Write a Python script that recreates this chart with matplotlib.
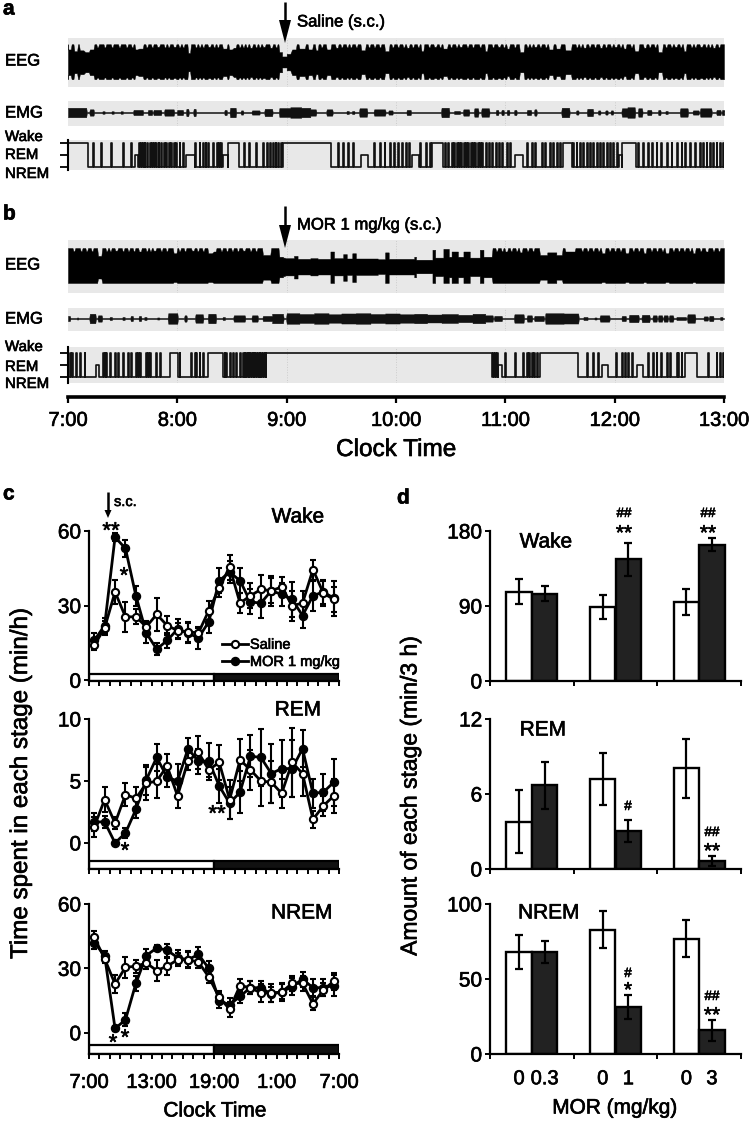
import numpy as np
import matplotlib
matplotlib.use('Agg')
import matplotlib.pyplot as plt
import matplotlib.patheffects as pe
from matplotlib.patches import Rectangle
from matplotlib.text import Text

plt.rcParams['font.family'] = ['Liberation Sans', 'DejaVu Sans']

W, H = 751, 1121

#### traces, everything in minutes after 7:00 ####
hour_labels = ['7:00', '8:00', '9:00', '10:00', '11:00', '12:00', '13:00']

# (start, end, amplitude), amplitude 1 = full scale
eeg_a_dips = [(0, 1.5, .7), (3.5, 5, .6), (6.5, 8.5, .65), (9.5, 11.5, .55), (12, 14, .7), (37, 38, .7), (39, 41, .75),
              (49, 50, .85), (58, 59, .85), (66, 67, .5), (77, 78, .85), (85, 87, .75), (88.5, 90, .7), (91, 92, .8),
              (100, 101, .8), (107, 108, .85), (111, 112, .8), (116, 117.5, .55), (117.5, 120, .3), (120, 122, .45),
              (123, 125, .7), (127, 130, .75), (132, 134, .7), (136, 137, .65), (142, 144, .7), (147, 148, .8),
              (161, 163, .65), (174, 176, .6), (186, 187, .8), (194, 195, .6), (201, 202, .85), (206, 208, .75),
              (215, 216, .85), (229, 230, .6), (236, 237, .85), (241, 242, .75), (248, 250, .55), (256, 257, .85),
              (264, 266, .7), (268, 270, .75), (273, 276, .65), (283, 284, .8), (292, 293, .8), (300, 301, .85),
              (305, 306, .75), (311, 313, .6), (316, 317, .8), (324, 326, .55), (333, 334, .85), (338, 339, .6),
              (347, 348, .85), (354, 355, .8)]
eeg_a_slits = [16, 20, 24, 28, 32, 35, 43, 46, 53, 55, 61, 63, 70, 72, 74, 80, 82, 94, 96, 98, 103, 105, 114, 139, 150,
               153, 155, 158, 165, 168, 171, 178, 181, 184, 189, 192, 198, 204, 210, 213, 219, 222, 226, 233, 239, 245,
               252, 254, 259, 262, 279, 281, 286, 289, 295, 298, 303, 309, 319, 322, 328, 331, 336, 342, 344, 350, 352,
               357]
eeg_b_dips = [(16.5, 18.3, .55), (26, 27, .85), (39, 40, .8), (47, 48, .85), (58, 59.5, .7), (68, 69, .85),
              (77, 79, .7), (80, 81, .8), (96, 97, .85), (107, 111, .6), (116, 118, .5), (118, 119, .45),
              (119, 124, .42), (124, 126, .55), (126, 133, .38), (133, 137, .42), (137, 144, .38), (144, 146, .8),
              (146, 151, .42), (151, 153, .65), (153, 156, .4), (156, 158, .7), (158, 170, .4), (170, 174, .36),
              (174, 176, .75), (176, 190, .38), (190, 191, .5), (191, 200, .33), (200, 201.5, .9), (201.5, 206, .45),
              (206, 209, .95), (209, 210.5, .5), (210.5, 214, .8), (214, 217, .5), (217, 220.5, .8), (220.5, 226, .45),
              (226, 228, .9), (228, 232.5, .5), (240, 241, .8), (248, 249, .75), (259, 263, .6), (263, 268, .75),
              (268, 271, .6), (273, 278, .8), (293, 294.5, .7), (306, 307.5, .7), (316, 317, .7), (328, 329.5, .7),
              (343, 344, .7), (350, 351, .8)]
eeg_b_slits = [3, 7, 10, 13, 21, 23, 30, 33, 36, 43, 45, 51, 54, 61, 64, 71, 74, 84, 87, 90, 93, 100, 103, 235, 238,
               243, 246, 252, 255, 282, 285, 288, 291, 297, 300, 303, 310, 313, 320, 323, 326, 332, 335, 338, 341, 347,
               354, 357]

# bursts on the emg line, same form
emg_a_bursts = [(0, 10, .9), (12, 14, .6), (19, 20, .25), (24, 25, .25), (29, 30, .25), (36, 41, .5), (44, 46, .5),
                (47, 51, .5), (53, 58, .6), (60, 63, .5), (65, 66, .7), (69, 70, .7), (86, 87, .5), (89, 92, .9),
                (95, 96, .4), (101, 105, .4), (108, 112, .7), (116, 122, .85), (122, 128, 1.0), (128, 133, .9),
                (133, 136, .6), (142, 145, .6), (153, 154, .3), (156, 157, .3), (160, 164, .8), (168, 174, .6),
                (176, 178, .4), (186, 188, .5), (205, 209, .9), (212, 215, .3), (217, 220, .6), (223, 225, .8),
                (227, 231, .8), (235, 236, .5), (238, 239, .5), (241, 242, .5), (245, 246, .5), (252, 254, .5),
                (256, 257, .6), (271, 275, .9), (279, 280, .4), (285, 288, .7), (291, 292, .4), (295, 296, .4),
                (298, 299, .4), (304, 307, .8), (307, 311, 1.0), (313, 315, .8), (318, 320, .5), (324, 325, .5),
                (328, 329, .3), (336, 340, .8), (343, 346, .4), (347, 353, .8), (356, 358, .5), (359, 360, .5)]
emg_b_bursts = [(0, 1, .5), (5, 5.5, .2), (12, 15, .9), (16.5, 18.5, .6), (23, 24, .3), (30, 31, .3), (34.5, 35.5, .5),
                (39, 40, .5), (42, 43, .3), (49, 50, .2), (55, 60, 1.0), (64, 65, .6), (70, 74, .8), (77, 81, .9),
                (85, 86, .3), (91, 97, .6), (101, 104, .6), (107, 112, .5), (112, 118, .9), (120, 127, 1.0),
                (127, 135, .85), (135, 143, 1.0), (143, 150, .8), (150, 158, .95), (158, 166, 1.0), (166, 174, .85),
                (174, 182, .95), (182, 190, .8), (190, 197, .9), (197, 205, .75), (205, 214, .85), (214, 222, .7),
                (222, 229, .9), (229, 233, .6), (234, 238, .5), (245, 250, .8), (252, 254.5, .6), (256, 261, .5),
                (262, 272, 1.0), (272, 280, .95), (283, 285, .3), (289, 290, .2), (292, 297, .6), (304, 306, .5),
                (308, 313, .7), (315, 319, .7), (321, 323, .6), (324, 326, .6), (327, 329, .6), (330, 332, .6),
                (334, 339, .3), (340, 344, .8), (349, 351, .4), (352, 354, .5), (358, 359, .3)]

# hypnograms: time spent in wake or rem, the rest is nrem, single spikes are short wake visits
hyp_a_wake = [(0, 11), (87.8, 94.1), (117.9, 144.4), (199.6, 206), (271.8, 276.4), (304.2, 311.5)]
hyp_a_rem = [(37, 38.5), (64.9, 69.5), (85, 87.8), (160.9, 164.5), (189, 192.5), (245.3, 249.9), (302.4, 304.2)]
hyp_a_spikes = [13.7, 18.3, 23.8, 30.2, 34.7, 38.9, 40.2, 41.1, 42, 43.3, 44.8, 46.1, 47.2, 48.4, 49.7, 51.2, 52.5,
                53.9, 55.4, 56.7, 58, 59.4, 61.2, 63.1, 69.8, 72.2, 74, 75.5, 76.8, 79.5, 81.7, 82.8, 84.1, 96.5, 99.6,
                103.3, 107, 109.1, 111, 112.4, 113.9, 115.4, 116.8, 148, 150.8, 153.5, 156.3, 168.2, 171, 173.7, 176.5,
                179, 181.3, 183.5, 185.4, 187.2, 193.2, 196.3, 198.7, 206.9, 208.7, 210.6, 212, 213.3, 214.6, 215.9,
                217.2, 218.4, 219.7, 221, 222.3, 223.6, 224.8, 226.1, 227.4, 229.2, 231, 232.9, 234.7, 236.5, 238.4,
                240.7, 242.6, 251.7, 254.5, 256.3, 259.9, 261.8, 264.5, 266.3, 268.2, 270, 277.3, 279.1, 281, 282.8,
                284.6, 286.5, 288.3, 290.1, 292, 293.8, 295.6, 297.4, 299.2, 301.1, 313, 315.7, 318.4, 320.3, 323,
                325.7, 328.5, 331.2, 334, 336.7, 338.5, 341.3, 344, 346.8, 348.6, 350.4, 352.3, 354.1, 355.9, 357.7,
                359.5]

hyp_b_wake = [(55.8, 60.3), (76.8, 85), (108.8, 232.5), (259, 280), (338.5, 345)]
hyp_b_rem = [(15.2, 17), (236.2, 238), (292.8, 296.5), (312, 315.7)]
hyp_b_spikes = [.9, 2.4, 4.6, 6.8, 9.1, 19.2, 20.1, 21, 22.9, 25.6, 27.4, 30.2, 32.9, 34.7, 37.1, 38.4, 39.3, 42.6,
                43.9, 45.2, 48.1, 50.3, 61.2, 67.6, 69.5, 70.4, 72.2, 74, 85.9, 86.8, 88.7, 90.5, 92.4, 94.2, 96, 96.9,
                97.8, 98.8, 99.6, 100.5, 101.4, 102.3, 103.2, 104.2, 105.1, 106, 107, 107.9, 233.4, 234.3, 235.3, 239.8,
                245.3, 249.9, 251.7, 253, 254.5, 255.9, 257.2, 284.6, 288.3, 291, 301, 303.8, 305.6, 307.5, 309.3,
                318.4, 321.2, 323, 325.7, 328.5, 330.3, 334, 335, 336.7, 351.3, 355.9, 357.7, 359.5]

#### panel c, 24 hourly points ####
wake_sal = [14, 21, 35.5, 25.5, 25.5, 21.5, 26.5, 22, 20, 19.5, 19, 28, 37, 45.5, 31, 34, 36.5, 36, 37.5, 30, 31, 44.5, 35, 32.5]
wake_sal_err = [2, 3, 5, 6, 3, 2.5, 6.5, 4, 3, 4, 2, 4, 3.5, 5, 4, 5, 6, 5, 4, 6, 5, 4, 5, 5]
wake_mor = [16, 22, 57.5, 53, 34, 19, 12.5, 16, 20.5, 19, 17, 23.5, 40, 43.5, 40, 31.5, 31, 36, 34.5, 32.5, 26, 34, 35.5, 33]
wake_mor_err = [3, 3, 1.5, 3.5, 4, 4, 2.5, 3, 4, 4, 4.5, 4.5, 5, 4.5, 5, 5, 6, 6, 4.5, 7, 5, 6, 5, 7]

rem_sal = [1.3, 3.5, 1.6, 3.9, 3.6, 4.8, 5.0, 6.2, 3.8, 6.6, 7.3, 5.9, 6.5, 3.5, 6.7, 5.9, 5.0, 4.9, 4.0, 6.5, 5.6, 1.9, 3.0, 3.8]
rem_sal_err = [.8, 1, .5, .9, .9, 1.3, 1.4, 1, 1, .7, 1.3, .6, 1.4, 1.6, 1.7, 1.6, 2, 1.7, 1.2, 2.8, 1.8, .7, .8, 1.4]
rem_mor = [1.7, 1.7, 0.0, .8, 2.7, 5.1, 6.9, 5.3, 5.0, 7.6, 6.6, 6.6, 4.6, 3.2, 4.1, 7.0, 6.9, 5.6, 6.0, 6.0, 7.6, 4.0, 4.1, 4.9]
rem_mor_err = [.7, .5, .15, .4, .7, 1.2, 1.1, .8, 1.4, .9, 1, 1.5, 1.4, 1.3, 1.7, 1.7, 2.3, 2.4, 2.3, 2.3, 1.5, 1.2, 1.5, 1.9]

nrem_sal = [44.5, 34.5, 22.7, 30.5, 31, 32.5, 29, 31, 34, 34, 33, 26, 16.5, 11, 22, 21, 18.5, 18.5, 19, 23, 23, 13.5, 20, 24]
nrem_sal_err = [3, 2, 4, 5, 3, 3, 5, 4, 3, 4, 3, 3, 3, 3.5, 3, 3, 4, 4, 3.5, 3.5, 3.5, 3, 3, 4]
nrem_mor = [42, 36, 2, 6, 23, 36, 39.5, 38.5, 35, 34, 36.5, 30, 15, 13, 17, 21, 21, 18, 19, 21.5, 25, 21, 21, 22]
nrem_mor_err = [3, 2, 1, 3, 3.5, 3, 1.5, 3, 3.5, 3.5, 3.5, 3.5, 3.5, 3, 3, 3, 3, 3.5, 4, 4, 3.5, 4, 4, 5]

clock_ticks = [0, 6, 12, 18, 24]
clock_labels = ['7:00', '13:00', '19:00', '1:00', '7:00']

#### panel d, saline then drug for each dose ####
dose_labels = ['0', '0.3', '0', '1', '0', '3']
bar_wake = [107, 104.5, 88.6, 146, 95, 163.7]
bar_wake_err = [15, 9, 14.5, 20, 15.5, 8]
bar_rem = [3.8, 6.7, 7.2, 3.05, 8.05, .65]
bar_rem_err = [2.5, 1.9, 2.05, .85, 2.35, .4]
bar_nrem = [68, 68, 83, 31.3, 77, 15.8]
bar_nrem_err = [11.5, 7.5, 12.5, 8, 12.5, 7]


def add_ax(left, top, right, bottom):
    return fig.add_axes([left / W, 1 - bottom / H, (right - left) / W, (bottom - top) / H])


def txt(x, y, s, **kw):
    kw.setdefault('va', 'center')
    kw.setdefault('ha', 'left')
    fig.text(x / W, 1 - y / H, s, **kw)


def arrow(x, y0, y1, head=23, half=6):
    # straight line with a long thin head, drawn in pixels on the figure
    ax_a = fig.add_axes([0, 0, 1, 1], facecolor='none')
    ax_a.set_xlim(0, W)
    ax_a.set_ylim(H, 0)
    ax_a.axis('off')
    ax_a.plot([x, x], [y0, y1 - head], color='k', lw=1.8, solid_capstyle='butt')
    ax_a.fill([x - half, x + half, x], [y1 - head, y1 - head, y1], color='k', lw=0)


def envelope(dips, base, ramp):
    # sloped walls around each dip so it looks like a notch and not a block
    t, a = [0], [base]
    prev = 0
    for s, e, v in sorted(dips):
        if s - prev > 2 * ramp:
            t += [prev + ramp, s - ramp]
            a += [base, base]
        t += [s, e]
        a += [v, v]
        prev = e
    t += [prev + ramp, 360]
    a += [base, base]
    return np.array(t), np.array(a)


def band(top, bottom, ylim):
    ax = add_ax(68, top, 724, bottom)
    ax.set_facecolor('#e8e8e8')
    ax.set_xlim(0, 360)
    ax.set_ylim(*ylim)
    ax.set_xticks([])
    ax.set_yticks([])
    for s in ax.spines.values():
        s.set_visible(False)
    ax.vlines(np.arange(60, 360, 60), *ylim, color='#cccccc', lw=.7, linestyles=':', zorder=1)
    return ax


def draw_eeg(top, bottom, center, half, dips, slits, low):
    ax = band(top, bottom, ((center - bottom) / half, (center - top) / half))
    all_dips = dips + [(s, s + .5, .82) for s in slits]
    t, a = envelope(all_dips, 1.0, .5)
    ax.fill_between(t, -np.minimum(a * low, 1), a, color='k', lw=.3, zorder=2)


def draw_emg(top, bottom, center, half, bursts):
    ax = band(top, bottom, ((center - bottom) / half, (center - top) / half))
    t, a = envelope(bursts, .11, .35)
    ax.fill_between(t, -a, a, color='#111111', lw=.3, zorder=2)


def draw_hyp(top, bottom, y_wake, y_nrem, wake, rem, spikes):
    step = (y_nrem - y_wake) / 2
    ax = band(top, bottom, ((y_nrem - bottom) / step, (y_nrem - top) / step))
    spans = [(a, b, 2) for a, b in wake] + [(a, b, 1) for a, b in rem] + [(s, s + .5, 2) for s in spikes]
    t, s = [0], [0]
    for a, b, v in sorted(spans):
        if a < t[-1]:
            continue
        t += [a, b]
        s += [v, 0]
    t.append(360)
    s.append(0)
    ax.step(t, s, where='post', color='#111111', lw=1.2, zorder=2)
    ax.spines['left'].set_visible(True)
    ax.spines['left'].set_linewidth(1.5)
    ax.set_yticks([0, 1, 2])
    ax.set_yticklabels([])
    ax.tick_params(axis='y', length=6, width=1.3)


def draw_line_panel(top, bottom, ylim, yticks, sal, sal_err, mor, mor_err, day_h):
    ax = add_ax(89, top, 339, bottom)
    x = np.arange(24) + .5
    h_mor = ax.errorbar(x, mor, yerr=mor_err, color='k', lw=2, elinewidth=1.5, capsize=2.4, capthick=1.5,
                        marker='o', ms=5.8, mfc='k', mec='k', clip_on=False, zorder=3)
    h_sal = ax.errorbar(x, sal, yerr=sal_err, color='k', lw=2, elinewidth=1.5, capsize=2.4, capthick=1.5,
                        marker='o', ms=5.2, mfc='white', mec='k', mew=1.5, clip_on=False, zorder=4)
    ax.set_xlim(0, 24)
    ax.set_ylim(*ylim)
    ax.set_yticks(yticks)
    ax.set_xticks(np.arange(25))
    ax.set_xticklabels([])
    ax.tick_params(axis='both', length=3.6, width=1.4, labelsize=15, pad=2)
    ax.spines['top'].set_visible(False)
    ax.spines['right'].set_visible(False)
    ax.spines['left'].set_linewidth(1.6)
    ax.spines['bottom'].set_linewidth(1.6)
    # light/dark bar on the axis
    frac = day_h / (bottom - top)
    tr = ax.get_xaxis_transform()
    ax.add_patch(Rectangle((0, 0), 12, frac, transform=tr, fc='white', ec='k', lw=1.6, zorder=2))
    ax.add_patch(Rectangle((12, 0), 12, frac, transform=tr, fc='#111111', ec='k', lw=1.6, zorder=2))
    return ax, h_sal, h_mor


def draw_bar_panel(top, bottom, ylim, yticks, vals, errs):
    ax = add_ax(490, top, 741, bottom)
    x = np.array([.5 - .153, .5 + .153, 1.5 - .153, 1.5 + .153, 2.5 - .153, 2.5 + .153])
    colors = ['white', '#222222'] * 3
    ax.bar(x, vals, width=.3, color=colors, edgecolor='k', linewidth=1.7, zorder=2)
    ax.errorbar(x, vals, yerr=errs, fmt='none', ecolor='k', elinewidth=1.6, capsize=2.8, capthick=1.6, zorder=3)
    ax.set_xlim(0, 3)
    ax.set_ylim(*ylim)
    ax.set_yticks(yticks)
    ax.set_xticks([0, 1, 2, 3])
    ax.set_xticklabels([])
    ax.tick_params(axis='both', length=3.6, width=1.4, labelsize=15, pad=2)
    ax.spines['top'].set_visible(False)
    ax.spines['right'].set_visible(False)
    ax.spines['left'].set_linewidth(1.6)
    ax.spines['bottom'].set_linewidth(1.6)
    return ax, x


fig = plt.figure(figsize=(W / 100, H / 100), dpi=100)

# panels a and b
draw_eeg(38, 87, 61.7, 17.5, eeg_a_dips, eeg_a_slits, 1.1)
draw_emg(101, 126, 112.5, 5.3, emg_a_bursts)
draw_hyp(140, 170, 142.5, 167, hyp_a_wake, hyp_a_rem, hyp_a_spikes)

draw_eeg(240, 293, 265.5, 17.5, eeg_b_dips, eeg_b_slits, 1.35)
draw_emg(308, 331, 318.5, 5.3, emg_b_bursts)
draw_hyp(347, 383, 353.3, 376.7, hyp_b_wake, hyp_b_rem, hyp_b_spikes)

ax_time = add_ax(68, 386, 724, 397)
ax_time.patch.set_visible(False)
ax_time.set_xlim(0, 360)
ax_time.set_yticks([])
ax_time.set_xticks(np.arange(0, 361, 60))
ax_time.set_xticklabels(hour_labels, fontsize=14.5)
ax_time.tick_params(axis='x', length=4, width=1.6, pad=6)
for s in ['top', 'left', 'right']:
    ax_time.spines[s].set_visible(False)
ax_time.spines['bottom'].set_linewidth(2.6)

arrow(285, 2, 43)
arrow(285, 206, 248)
txt(297, 22, 'Saline (s.c.)', fontsize=12)
txt(297, 225, 'MOR 1 mg/kg (s.c.)', fontsize=12)
txt(396, 450, 'Clock Time', fontsize=17.5, ha='center')

for y, s in [(61, 'EEG'), (113, 'EMG'), (265, 'EEG'), (319, 'EMG')]:
    txt(5, y, s, fontsize=12)
for y, s in [(137, 'Wake'), (155, 'REM'), (174, 'NREM'), (347, 'Wake'), (367, 'REM'), (384, 'NREM')]:
    txt(5, y, s, fontsize=10.8)

for x, y, s in [(3, 9, 'a'), (3, 214, 'b'), (3, 494, 'c'), (397, 498, 'd')]:
    txt(x, y, s, fontsize=15, fontweight='bold')

# panel c
ax_w, h_sal, h_mor = draw_line_panel(531, 681, (-.3, 60), [0, 30, 60], wake_sal, wake_sal_err, wake_mor, wake_mor_err, 7)
draw_line_panel(719, 869, (-2.1, 10), [0, 5, 10], rem_sal, rem_sal_err, rem_mor, rem_mor_err, 8.5)
ax_n, _, _ = draw_line_panel(904, 1054, (-9.9, 60), [0, 30, 60], nrem_sal, nrem_sal_err, nrem_mor, nrem_mor_err, 9)
ax_n.set_xticks(clock_ticks, minor=False)
ax_n.set_xticklabels(clock_labels, fontsize=14.5)
ax_n.set_xticks(np.arange(25), minor=True)
ax_n.tick_params(axis='x', which='both', length=3.6, width=1.4, pad=10)

ax_w.legend([h_sal.lines[0], h_mor.lines[0]], ['Saline', 'MOR 1 mg/kg'], loc='lower left', frameon=False,
            bbox_to_anchor=(.53, .08), fontsize=10.5, handlelength=1.8, handletextpad=.15, labelspacing=.22,
            borderpad=0, borderaxespad=0)

arrow(108, 492, 518, head=8, half=3.5)
txt(114, 502, 's.c.', fontsize=10.5)
txt(298, 517, 'Wake', fontsize=15, ha='center')
txt(298, 710, 'REM', fontsize=15, ha='center')
txt(302, 913, 'NREM', fontsize=15, ha='center')
txt(21, 784, 'Time spent in each stage (min/h)', fontsize=17.4, rotation=90, ha='center')
txt(215, 1111, 'Clock Time', fontsize=15, ha='center')

for x, y, s in [(111, 527, '**'), (124, 572, '*'), (125, 847, '*'), (217, 810, '**'), (113, 1039, '*'), (125, 1034, '*')]:
    txt(x, y + 5, s, fontsize=16, ha='center')

# panel d
draw_bar_panel(531, 681, (0, 180), [0, 90, 180], bar_wake, bar_wake_err)
draw_bar_panel(719, 869, (0, 12), [0, 6, 12], bar_rem, bar_rem_err)
ax_b, bar_x = draw_bar_panel(904, 1054, (0, 100), [0, 50, 100], bar_nrem, bar_nrem_err)
ax_b.set_xticks(bar_x, dose_labels, minor=True, fontsize=14.5)
ax_b.tick_params(axis='x', which='minor', length=0, pad=11)

txt(546, 542, 'Wake', fontsize=15, ha='center')
txt(543, 730, 'REM', fontsize=15, ha='center')
txt(549, 913, 'NREM', fontsize=15, ha='center')
txt(410, 796, 'Amount of each stage (min/3 h)', fontsize=16.5, rotation=90, ha='center')
txt(615, 1108, 'MOR (mg/kg)', fontsize=15, ha='center')

for x, y, s in [(624, 514, '##'), (708, 514, '##'), (628, 807, '#'), (712, 833, '##'), (628, 974, '#'), (712, 997, '##')]:
    txt(x, y, s, fontsize=9.7, ha='center')
for x, y, s in [(624, 529, '**'), (708, 529, '**'), (712, 847, '**'), (628, 986, '*'), (712, 1011, '**')]:
    txt(x, y + 5, s, fontsize=15, ha='center')

# the scan has heavier letters than the plain font
for t in fig.findobj(Text):
    t.set_path_effects([pe.withStroke(linewidth=.45, foreground='k')])

fig.savefig('out.png', dpi=100)
